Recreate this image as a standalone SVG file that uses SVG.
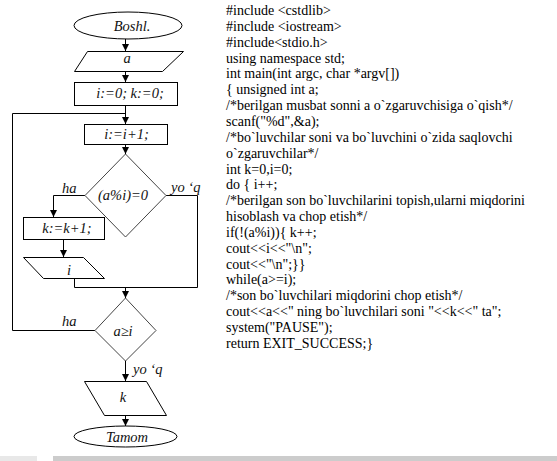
<svg xmlns="http://www.w3.org/2000/svg" width="557" height="461" viewBox="0 0 557 461">
<style>
.s{fill:#fff;stroke:#000;stroke-width:1}
.d{fill:#fff;stroke:#444;stroke-width:1}
.c{fill:none;stroke:#000;stroke-width:1}
.t{font-family:'Liberation Serif','Times New Roman','DejaVu Serif',serif;font-style:italic;font-size:14.5px;fill:#111;text-anchor:middle}
.l{font-family:'Liberation Serif','Times New Roman','DejaVu Serif',serif;font-style:italic;font-size:14.5px;fill:#111}
.code{font-family:'Liberation Serif','Times New Roman','DejaVu Serif',serif;font-size:14px;fill:#000}
</style>
<defs>
<marker id="ar" markerUnits="userSpaceOnUse" markerWidth="8" markerHeight="7" refX="7" refY="3.5" orient="auto">
<path d="M0,0 L7,3.5 L0,7 z" fill="#000"/>
</marker>
</defs>
<rect width="557" height="461" fill="#fff"/>
<g id="connectors">
<path class="c" d="M125.5,39 V51" marker-end="url(#ar)"/>
<path class="c" d="M125.5,71 V82" marker-end="url(#ar)"/>
<path class="c" d="M125.5,105 V124" marker-end="url(#ar)"/>
<path class="c" d="M125.5,144 V154" marker-end="url(#ar)"/>
<path class="c" d="M85,195.5 H53.5 V217" marker-end="url(#ar)"/>
<path class="c" d="M63.5,239 V257" marker-end="url(#ar)"/>
<path class="c" d="M166,195.5 H197.5 V287.5 H74.5 V278"/>
<path class="c" d="M125.5,287.5 V298" marker-end="url(#ar)"/>
<path class="c" d="M95,330.5 H12.5 V113.5 H125.5"/>
<path class="c" d="M125.5,361 V381" marker-end="url(#ar)"/>
<path class="c" d="M125.5,415 V426" marker-end="url(#ar)"/>
</g>
<g id="start">
<ellipse class="s" cx="128" cy="25.5" rx="54" ry="13.5"/>
<text class="t" x="132" y="31" font-size="15">Boshl.</text>
</g>
<g id="input-a">
<polygon class="s" points="87.5,51.5 183.5,51.5 162.5,71.5 74.5,71.5"/>
<text class="t" x="127" y="63">a</text>
</g>
<g id="init">
<rect class="s" x="74.5" y="82.5" width="103" height="23"/>
<text class="t" x="130" y="98">i:=0; k:=0;</text>
</g>
<g id="incr">
<rect class="s" x="84.5" y="124.5" width="83" height="20"/>
<text class="t" x="126.5" y="139">i:=i+1;</text>
</g>
<g id="cond1">
<polygon class="d" points="125.5,154 166,195.5 125.5,237 85,195.5"/>
<text class="t" x="123" y="200">(a%i)=0</text>
</g>
<text class="l" x="62" y="193">ha</text>
<text class="l" x="171" y="192">yo ‘q</text>
<g id="kinc">
<rect class="s" x="23.5" y="217.5" width="81" height="22"/>
<text class="t" x="67" y="233">k:=k+1;</text>
</g>
<g id="output-i">
<polygon class="s" points="23.5,257.5 83.5,257.5 104.5,278.5 43.5,278.5"/>
<text class="t" x="69" y="275">i</text>
</g>
<g id="cond2">
<polygon class="d" points="125.5,298 156,330.5 125.5,361 95,330.5"/>
<text class="t" x="123" y="336">a≥i</text>
</g>
<text class="l" x="62" y="326">ha</text>
<text class="l" x="133" y="374">yo ‘q</text>
<g id="output-k">
<polygon class="s" points="84.5,381.5 146.5,381.5 166.5,415.5 104.5,415.5"/>
<text class="t" x="123" y="402">k</text>
</g>
<g id="end">
<ellipse class="s" cx="125.5" cy="436.5" rx="51.5" ry="10.5"/>
<text class="t" x="127" y="442">Tamom</text>
</g>
<g id="code">
<text class="code" x="226" y="15">#include &lt;cstdlib&gt;</text>
<text class="code" x="226" y="30.8">#include &lt;iostream&gt;</text>
<text class="code" x="226" y="46.7">#include&lt;stdio.h&gt;</text>
<text class="code" x="226" y="62.5">using namespace std;</text>
<text class="code" x="226" y="78.4">int main(int argc, char *argv[])</text>
<text class="code" x="226" y="94.2">{ unsigned int a;</text>
<text class="code" x="226" y="110">/*berilgan musbat sonni a o`zgaruvchisiga o`qish*/</text>
<text class="code" x="226" y="125.9">scanf("%d",&amp;a);</text>
<text class="code" x="226" y="141.8">/*bo`luvchilar soni va bo`luvchini o`zida saqlovchi</text>
<text class="code" x="226" y="157.6">o`zgaruvchilar*/</text>
<text class="code" x="226" y="173.5">int k=0,i=0;</text>
<text class="code" x="226" y="189.3">do {  i++;</text>
<text class="code" x="226" y="205.2">/*berilgan son bo`luvchilarini topish,ularni miqdorini</text>
<text class="code" x="226" y="221">hisoblash va chop etish*/</text>
<text class="code" x="226" y="236.9">if(!(a%i)){ k++;</text>
<text class="code" x="226" y="252.7">cout&lt;&lt;i&lt;&lt;"\n";</text>
<text class="code" x="226" y="268.6">cout&lt;&lt;"\n";}}</text>
<text class="code" x="226" y="284.4">while(a&gt;=i);</text>
<text class="code" x="226" y="300.3">/*son bo`luvchilari miqdorini chop etish*/</text>
<text class="code" x="226" y="316.1">cout&lt;&lt;a&lt;&lt;" ning bo`luvchilari soni "&lt;&lt;k&lt;&lt;" ta";</text>
<text class="code" x="226" y="332">system("PAUSE");</text>
<text class="code" x="226" y="347.8">return EXIT_SUCCESS;}</text>
</g>
<rect x="0" y="456" width="37" height="5" fill="#e8e8e8"/>
<rect x="53" y="456" width="504" height="5" fill="#cccccc"/>
</svg>
